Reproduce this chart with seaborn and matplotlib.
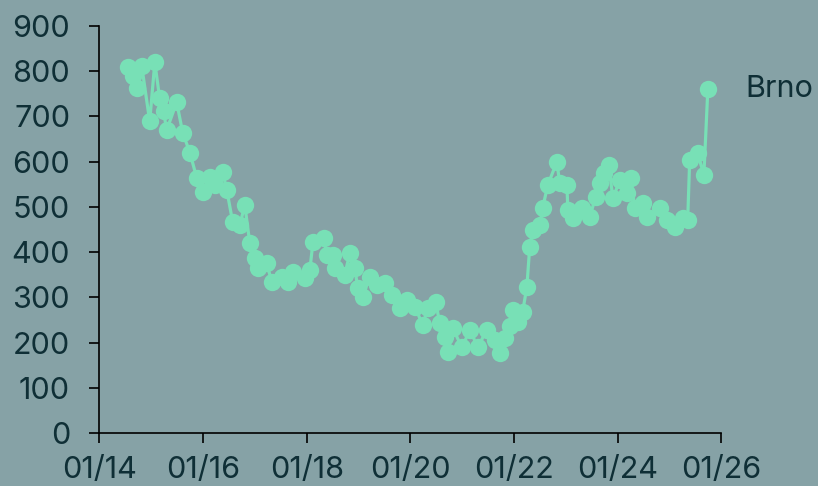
import pandas as pd
import matplotlib.pyplot as plt
import matplotlib.dates as mdates
import seaborn as sns

# Brno series
dates = [
    '2014-07-20', '2014-08-24', '2014-09-22', '2014-10-27', '2014-12-22',
    '2015-01-27', '2015-03-02', '2015-03-30', '2015-04-20', '2015-06-30',
    '2015-08-12', '2015-10-01', '2015-11-19', '2016-01-01', '2016-02-19',
    '2016-03-24', '2016-05-19', '2016-06-17', '2016-07-29', '2016-09-17',
    '2016-10-22', '2016-11-26', '2017-01-02', '2017-01-23', '2017-03-25',
    '2017-04-30', '2017-07-09', '2017-08-21', '2017-09-25', '2017-12-19',
    '2018-01-23', '2018-02-14', '2018-05-01', '2018-05-22', '2018-07-03',
    '2018-07-17', '2018-09-26', '2018-11-01', '2018-12-06', '2018-12-27',
    '2019-02-01', '2019-03-20', '2019-05-09', '2019-07-04', '2019-08-23',
    '2019-10-18', '2019-12-07', '2020-02-02', '2020-03-28', '2020-05-03',
    '2020-06-28', '2020-07-26', '2020-09-01', '2020-09-22', '2020-10-26',
    '2020-12-29', '2021-02-24', '2021-04-20', '2021-06-22', '2021-08-18',
    '2021-09-23', '2021-10-27', '2021-12-02', '2021-12-23', '2022-01-28',
    '2022-03-02', '2022-04-01', '2022-04-21', '2022-05-12', '2022-07-01',
    '2022-07-21', '2022-08-26', '2022-10-29', '2022-11-19', '2023-01-08',
    '2023-01-15', '2023-02-20', '2023-04-22', '2023-06-18', '2023-07-30',
    '2023-08-28', '2023-09-25', '2023-10-30', '2023-11-28', '2024-01-16',
    '2024-03-05', '2024-04-02', '2024-05-01', '2024-06-26', '2024-07-24',
    '2024-10-24', '2024-12-12', '2025-02-08', '2025-04-04', '2025-05-08',
    '2025-05-22', '2025-07-18', '2025-08-30', '2025-09-27',
]
values = [
    808, 790, 762, 811, 689,
    819, 740, 712, 669, 731,
    663, 620, 563, 533, 565,
    548, 577, 537, 466, 460,
    504, 420, 387, 365, 376,
    334, 346, 334, 356, 343,
    360, 422, 432, 393, 393,
    364, 350, 398, 364, 320,
    301, 346, 328, 331, 305,
    276, 294, 280, 239, 276,
    290, 243, 212, 179, 232,
    190, 228, 190, 228, 206,
    177, 210, 238, 272, 246,
    268, 323, 411, 449, 459,
    497, 548, 599, 552, 548,
    493, 475, 497, 478, 522,
    552, 574, 592, 519, 559,
    530, 563, 497, 508, 478,
    497, 471, 455, 475, 471,
    603, 618, 570, 760,
]
series_name = 'Brno'
x_ticks = ['2014-01-01', '2016-01-01', '2018-01-01', '2020-01-01',
           '2022-01-01', '2024-01-01', '2026-01-01']
y_ticks = [0, 100, 200, 300, 400, 500, 600, 700, 800, 900]

bg = '#86A2A6'
line_color = '#78E0B6'
text_color = '#0F2F36'

df = pd.DataFrame({'date': pd.to_datetime(dates), 'value': values})

sns.set_style('ticks')
plt.rcParams['font.family'] = ['Inter', 'DejaVu Sans']

fig = plt.figure(figsize=(8.18, 4.86), dpi=100, facecolor=bg)
ax = fig.add_axes([0.1214, 0.1084, 0.7606, 0.8387])
ax.set_facecolor(bg)

sns.lineplot(data=df, x='date', y='value', ax=ax, color=line_color,
             linewidth=2.3, marker='o', markersize=12.5, markeredgewidth=0)

ax.set_xlim(pd.Timestamp(x_ticks[0]), pd.Timestamp(x_ticks[-1]))
ax.set_ylim(y_ticks[0], y_ticks[-1])
ax.set_xticks(pd.to_datetime(x_ticks))
ax.xaxis.set_major_formatter(mdates.DateFormatter('%m/%y'))
ax.set_yticks(y_ticks)
ax.set_xlabel('')
ax.set_ylabel('')

ax.tick_params(axis='both', colors='black', labelcolor=text_color,
               labelsize=22, length=7, width=1.2, direction='out')
ax.tick_params(axis='y', pad=14)
ax.tick_params(axis='x', pad=9)
for side in ['left', 'bottom']:
    ax.spines[side].set_color('black')
    ax.spines[side].set_linewidth(1.2)
sns.despine(ax=ax)

# series label next to the last point
ax.annotate(series_name, xy=(df['date'].iloc[-1], df['value'].iloc[-1]),
            xytext=(27, 0), textcoords='offset points', va='center',
            ha='left', fontsize=22, color=text_color, annotation_clip=False)

fig.savefig('out.png', dpi=100, facecolor=bg)
